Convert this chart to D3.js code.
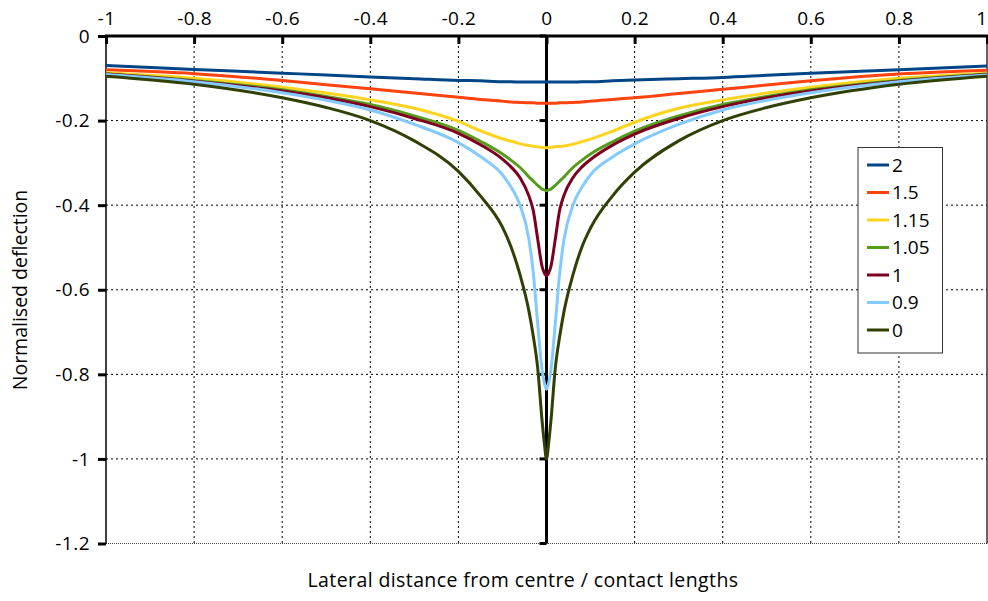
<!DOCTYPE html>
<html lang="en">
<head>
<meta charset="UTF-8">
<title>Normalised deflection</title>
<script src="https://d3js.org/d3.v7.min.js"></script>
<style>
    body { margin: 0; background: #fff; }
    text { font-family: "Open Sans", sans-serif; fill: #000; }
</style>
</head>
<body>
<script>

    // lateral positions (contact lengths), shared by every curve
    var lateral = [-1, -0.8, -0.6, -0.5, -0.4, -0.3, -0.2, -0.15, -0.1, -0.08, -0.06, -0.04, -0.03, -0.02, -0.01, -0.005,
        0,
        0.005, 0.01, 0.02, 0.03, 0.04, 0.06, 0.08, 0.1, 0.15, 0.2, 0.3, 0.4, 0.5, 0.6, 0.8, 1];

    // legend names
    var seriesNames = ['2', '1.5', '1.15', '1.05', '1', '0.9', '0'];

    // deflection values
    var defl2 = [-0.070, -0.079, -0.088, -0.092, -0.097, -0.101, -0.105, -0.106, -0.108, -0.108, -0.109, -0.109, -0.109, -0.109, -0.109, -0.109,
        -0.109,
        -0.109, -0.109, -0.109, -0.109, -0.109, -0.109, -0.108, -0.108, -0.106, -0.104, -0.101, -0.098, -0.093, -0.088, -0.080, -0.071];
    var defl15 = [-0.080, -0.089, -0.105, -0.115, -0.125, -0.135, -0.145, -0.150, -0.154, -0.156, -0.157, -0.158, -0.158, -0.159, -0.159, -0.159,
        -0.159,
        -0.159, -0.159, -0.159, -0.158, -0.158, -0.157, -0.156, -0.154, -0.150, -0.146, -0.136, -0.126, -0.116, -0.106, -0.090, -0.081];
    var defl115 = [-0.087, -0.100, -0.121, -0.135, -0.151, -0.171, -0.202, -0.224, -0.243, -0.249, -0.255, -0.259, -0.261, -0.262, -0.263, -0.264,
        -0.264,
        -0.264, -0.263, -0.262, -0.261, -0.260, -0.256, -0.250, -0.244, -0.225, -0.204, -0.171, -0.151, -0.135, -0.121, -0.100, -0.088];
    var defl105 = [-0.089, -0.105, -0.127, -0.143, -0.162, -0.189, -0.223, -0.249, -0.279, -0.294, -0.311, -0.333, -0.343, -0.353, -0.362, -0.364,
        -0.366,
        -0.364, -0.362, -0.353, -0.343, -0.333, -0.311, -0.294, -0.279, -0.250, -0.225, -0.189, -0.162, -0.143, -0.127, -0.105, -0.090];
    var defl1 = [-0.090, -0.107, -0.130, -0.146, -0.167, -0.195, -0.230, -0.257, -0.291, -0.310, -0.335, -0.378, -0.413, -0.480, -0.545, -0.560,
        -0.567,
        -0.560, -0.545, -0.480, -0.411, -0.376, -0.335, -0.310, -0.292, -0.258, -0.232, -0.195, -0.167, -0.146, -0.130, -0.107, -0.091];
    var defl09 = [-0.091, -0.108, -0.134, -0.152, -0.175, -0.209, -0.252, -0.285, -0.328, -0.358, -0.400, -0.480, -0.560, -0.680, -0.790, -0.820,
        -0.835,
        -0.820, -0.790, -0.680, -0.560, -0.480, -0.400, -0.358, -0.328, -0.286, -0.255, -0.209, -0.175, -0.152, -0.134, -0.108, -0.092];
    var defl0 = [-0.095, -0.114, -0.146, -0.169, -0.200, -0.248, -0.320, -0.378, -0.452, -0.500, -0.565, -0.650, -0.710, -0.785, -0.910, -0.962,
        -1.000,
        -0.962, -0.910, -0.785, -0.710, -0.650, -0.565, -0.500, -0.454, -0.378, -0.322, -0.248, -0.200, -0.169, -0.146, -0.114, -0.095];

    var xTicks = [-1, -0.8, -0.6, -0.4, -0.2, 0, 0.2, 0.4, 0.6, 0.8, 1];
    var yTicks = [0, -0.2, -0.4, -0.6, -0.8, -1, -1.2];

    var colors = ['#004586', '#ff420e', '#ffd320', '#579d1c', '#7e0021', '#83caff', '#314004'];

    var allSeries = [defl2, defl15, defl115, defl105, defl1, defl09, defl0].map(function (vals, i) {
        return {
            name: seriesNames[i],
            color: colors[i],
            points: lateral.map(function (x, j) { return { x: x, y: vals[j] }; })
        };
    });

    var width = 988, height = 601;

    var svg = d3.select('body')
        .append('svg')
        .attr('width', width)
        .attr('height', height);

    var x = d3.scaleLinear().domain([-1, 1]).range([106, 987]);
    var y = d3.scaleLinear().domain([0, -1.2]).range([36, 543.5]);

    var fmt = function (d) { return String(+d.toFixed(1)); };

    // grid (dotted)
    var grid = svg.append('g');
    grid.selectAll('.hgrid')
        .data(yTicks.filter(function (d) { return d !== 0; }))
        .enter().append('line')
        .attr('x1', x(-1)).attr('x2', x(1))
        .attr('y1', function (d) { return y(d); })
        .attr('y2', function (d) { return y(d); })
        .attr('stroke', function (d) { return d === -1.2 ? '#444' : '#000'; })
        .attr('stroke-width', 1)
        .attr('stroke-dasharray', function (d) { return d === -1.2 ? '1,1' : '2,3'; });

    grid.selectAll('.vgrid')
        .data(xTicks.filter(function (d) { return d !== 0 && d !== -1 && d !== 1; }))
        .enter().append('line')
        .attr('x1', function (d) { return x(d); })
        .attr('x2', function (d) { return x(d); })
        .attr('y1', y(0)).attr('y2', y(-1.2))
        .attr('stroke', '#000')
        .attr('stroke-width', 1)
        .attr('stroke-dasharray', '2,3');

    // plot borders left and right
    svg.append('line')
        .attr('x1', x(-1)).attr('x2', x(-1))
        .attr('y1', y(0)).attr('y2', y(-1.2))
        .attr('stroke', '#000').attr('stroke-width', 1.5);
    svg.append('line')
        .attr('x1', x(1)).attr('x2', x(1))
        .attr('y1', y(0)).attr('y2', y(-1.2))
        .attr('stroke', '#000').attr('stroke-width', 1.2);

    var line = d3.line()
        .x(function (d) { return x(d.x); })
        .y(function (d) { return y(d.y); })
        .curve(d3.curveMonotoneX);

    // vertical axis through zero, under the curves
    var mid = svg.append('g').attr('transform', 'translate(' + x(0) + ',0)');
    mid.append('line')
        .attr('y1', y(0)).attr('y2', y(-1.2))
        .attr('stroke', '#000').attr('stroke-width', 3);
    mid.selectAll('.mtick')
        .data(yTicks)
        .enter().append('line')
        .attr('x1', -7).attr('x2', 0)
        .attr('y1', function (d) { return y(d); })
        .attr('y2', function (d) { return y(d); })
        .attr('stroke', '#000').attr('stroke-width', 3);

    // curves
    svg.append('g')
        .selectAll('path')
        .data(allSeries)
        .enter().append('path')
        .attr('d', function (d) { return line(d.points); })
        .attr('fill', 'none')
        .attr('stroke', function (d) { return d.color; })
        .attr('stroke-width', 3)
        .attr('stroke-linejoin', 'round');

    // top axis
    var topAxis = svg.append('g')
        .attr('transform', 'translate(0,' + y(0) + ')')
        .call(d3.axisTop(x).tickValues(xTicks).tickFormat(fmt).tickSizeInner(-8).tickSizeOuter(0).tickPadding(11));
    topAxis.select('.domain').remove();
    topAxis.selectAll('.tick line').attr('stroke-width', 3);
    topAxis.selectAll('text')
        .attr('font-size', '19px')
        .attr('letter-spacing', '0.5px')
        .attr('font-family', '"Open Sans", sans-serif');
    topAxis.selectAll('.tick text')
        .filter(function (d) { return d === 1; })
        .attr('text-anchor', 'end')
        .attr('dx', 0);
    topAxis.append('line')
        .attr('x1', x(-1) - 1).attr('x2', x(1) + 1)
        .attr('stroke', '#000').attr('stroke-width', 3);

    // left axis
    var leftAxis = svg.append('g')
        .attr('transform', 'translate(' + x(-1) + ',0)')
        .call(d3.axisLeft(y).tickValues(yTicks).tickFormat(fmt).tickSizeInner(8).tickSizeOuter(0).tickPadding(8));
    leftAxis.select('.domain').remove();
    leftAxis.selectAll('.tick line').attr('stroke-width', 3);
    leftAxis.selectAll('text')
        .attr('font-size', '19px')
        .attr('letter-spacing', '0.5px')
        .attr('font-family', '"Open Sans", sans-serif');

    // axis titles
    svg.append('text')
        .attr('x', 523)
        .attr('y', 587)
        .attr('text-anchor', 'middle')
        .attr('font-size', '19.5px')
        .attr('letter-spacing', '0.4px')
        .text('Lateral distance from centre / contact lengths');

    svg.append('text')
        .attr('transform', 'translate(27,' + 290 + ') rotate(-90)')
        .attr('text-anchor', 'middle')
        .attr('font-size', '19.5px')
        .text('Normalised deflection');

    // legend
    var legend = svg.append('g').attr('transform', 'translate(858,147.5)');
    legend.append('rect')
        .attr('width', 84.5).attr('height', 205.5)
        .attr('fill', '#fff')
        .attr('stroke', '#333').attr('stroke-width', 1);
    var items = legend.selectAll('.item')
        .data(allSeries)
        .enter().append('g')
        .attr('transform', function (d, i) { return 'translate(0,' + (17.5 + i * 27.5) + ')'; });
    items.append('line')
        .attr('x1', 9).attr('x2', 31)
        .attr('stroke', function (d) { return d.color; })
        .attr('stroke-width', 3);
    items.append('text')
        .attr('x', 34)
        .attr('dy', '0.36em')
        .attr('font-size', '19px')
        .text(function (d) { return d.name; });

</script>
</body>
</html>
